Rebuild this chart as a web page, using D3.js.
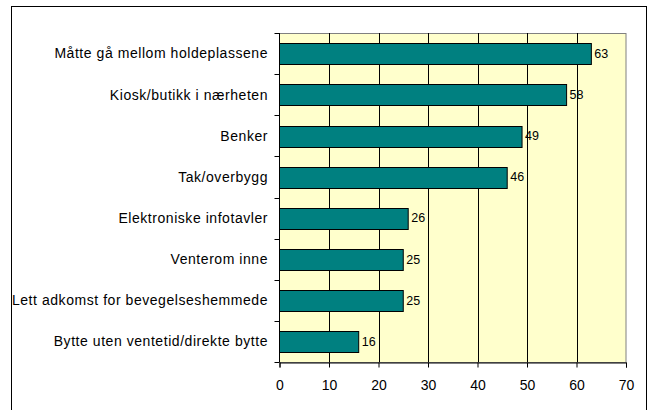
<!DOCTYPE html>
<html>
<head>
<meta charset="utf-8">
<script src="https://cdn.jsdelivr.net/npm/d3@7"></script>
<style>
  body { margin: 0; background: #fff; }
  text { font-family: "Liberation Sans", Arial, sans-serif; }
</style>
</head>
<body>
<div id="chart"></div>
<script>
const categories = [
    "Måtte gå mellom holdeplassene",
    "Kiosk/butikk i nærheten",
    "Benker",
    "Tak/overbygg",
    "Elektroniske infotavler",
    "Venterom inne",
    "Lett adkomst for bevegelseshemmede",
    "Bytte uten ventetid/direkte bytte"
];
const values = [63, 58, 49, 46, 26, 25, 25, 16];
const xTicks = [0, 10, 20, 30, 40, 50, 60, 70];

const W = 651, H = 410;
const plot = { left: 279.5, right: 626, top: 33, bottom: 362 };

const svg = d3.select("#chart").append("svg")
    .attr("width", W)
    .attr("height", H);

// outer chart frame (bottom edge falls outside the picture)
svg.append("rect")
    .attr("x", 11.5).attr("y", 6.5)
    .attr("width", 635).attr("height", 420)
    .attr("fill", "#fff")
    .attr("stroke", "#000");

const x = d3.scaleLinear().domain([0, 70]).range([plot.left, plot.right]);
const y = d3.scaleBand().domain(categories).range([plot.top, plot.bottom]).paddingInner(0.5).paddingOuter(0.25);

// plot background
svg.append("rect")
    .attr("x", plot.left).attr("y", plot.top + 0.5)
    .attr("width", plot.right - plot.left).attr("height", plot.bottom - plot.top)
    .attr("fill", "#ffffcc")
    .attr("stroke", "#808080");

// vertical gridlines
svg.selectAll("line.grid")
    .data(xTicks.slice(1, -1))
    .enter()
    .append("line")
    .attr("class", "grid")
    .attr("x1", d => Math.round(x(d)) + 0.5)
    .attr("x2", d => Math.round(x(d)) + 0.5)
    .attr("y1", plot.top)
    .attr("y2", plot.bottom)
    .attr("stroke", "#000")
    .attr("stroke-width", 1);

// bars
svg.selectAll("rect.bar")
    .data(values)
    .enter()
    .append("rect")
    .attr("class", "bar")
    .attr("x", x(0))
    .attr("y", (d, i) => Math.round(y(categories[i])) + 0.5)
    .attr("width", d => x(d) - x(0))
    .attr("height", Math.round(y.bandwidth()))
    .attr("fill", "#008080")
    .attr("stroke", "#000")
    .attr("stroke-width", 1);

// value labels
svg.selectAll("text.val")
    .data(values)
    .enter()
    .append("text")
    .attr("class", "val")
    .attr("x", d => x(d) + 3)
    .attr("y", (d, i) => y(categories[i]) + y.bandwidth() / 2)
    .attr("dy", "0.35em")
    .attr("font-size", "12.5px")
    .attr("fill", "#000")
    .text(d => d);

// y axis
const yAxis = d3.scaleLinear().domain([0, categories.length]).range([plot.top, plot.bottom]);
const gy = svg.append("g").attr("transform", `translate(${plot.left},0)`);
gy.append("line")
    .attr("y1", plot.top).attr("y2", plot.bottom)
    .attr("stroke", "#000");
gy.selectAll("line.tick")
    .data(d3.range(categories.length + 1))
    .enter()
    .append("line")
    .attr("class", "tick")
    .attr("x1", -5).attr("x2", 0)
    .attr("y1", d => Math.round(yAxis(d)) + 0.5)
    .attr("y2", d => Math.round(yAxis(d)) + 0.5)
    .attr("stroke", "#000");
gy.selectAll("text")
    .data(categories)
    .enter()
    .append("text")
    .attr("x", -11.5)
    .attr("y", d => y(d) + y.bandwidth() / 2)
    .attr("dy", "0.35em")
    .attr("text-anchor", "end")
    .attr("font-size", "14px")
    .attr("letter-spacing", "0.55px")
    .attr("fill", "#000")
    .text(d => d);

// x axis
const gx = svg.append("g")
    .attr("transform", `translate(0,${plot.bottom + 0.5})`)
    .call(d3.axisBottom(x).tickValues(xTicks).tickSize(5).tickPadding(13).tickFormat(d3.format("d")));
gx.select(".domain").attr("stroke", "#000");
gx.selectAll(".tick line").attr("stroke", "#000");
gx.selectAll(".tick text")
    .attr("font-size", "14px")
    .attr("font-family", "Liberation Sans, Arial, sans-serif")
    .attr("fill", "#000");
</script>
</body>
</html>
